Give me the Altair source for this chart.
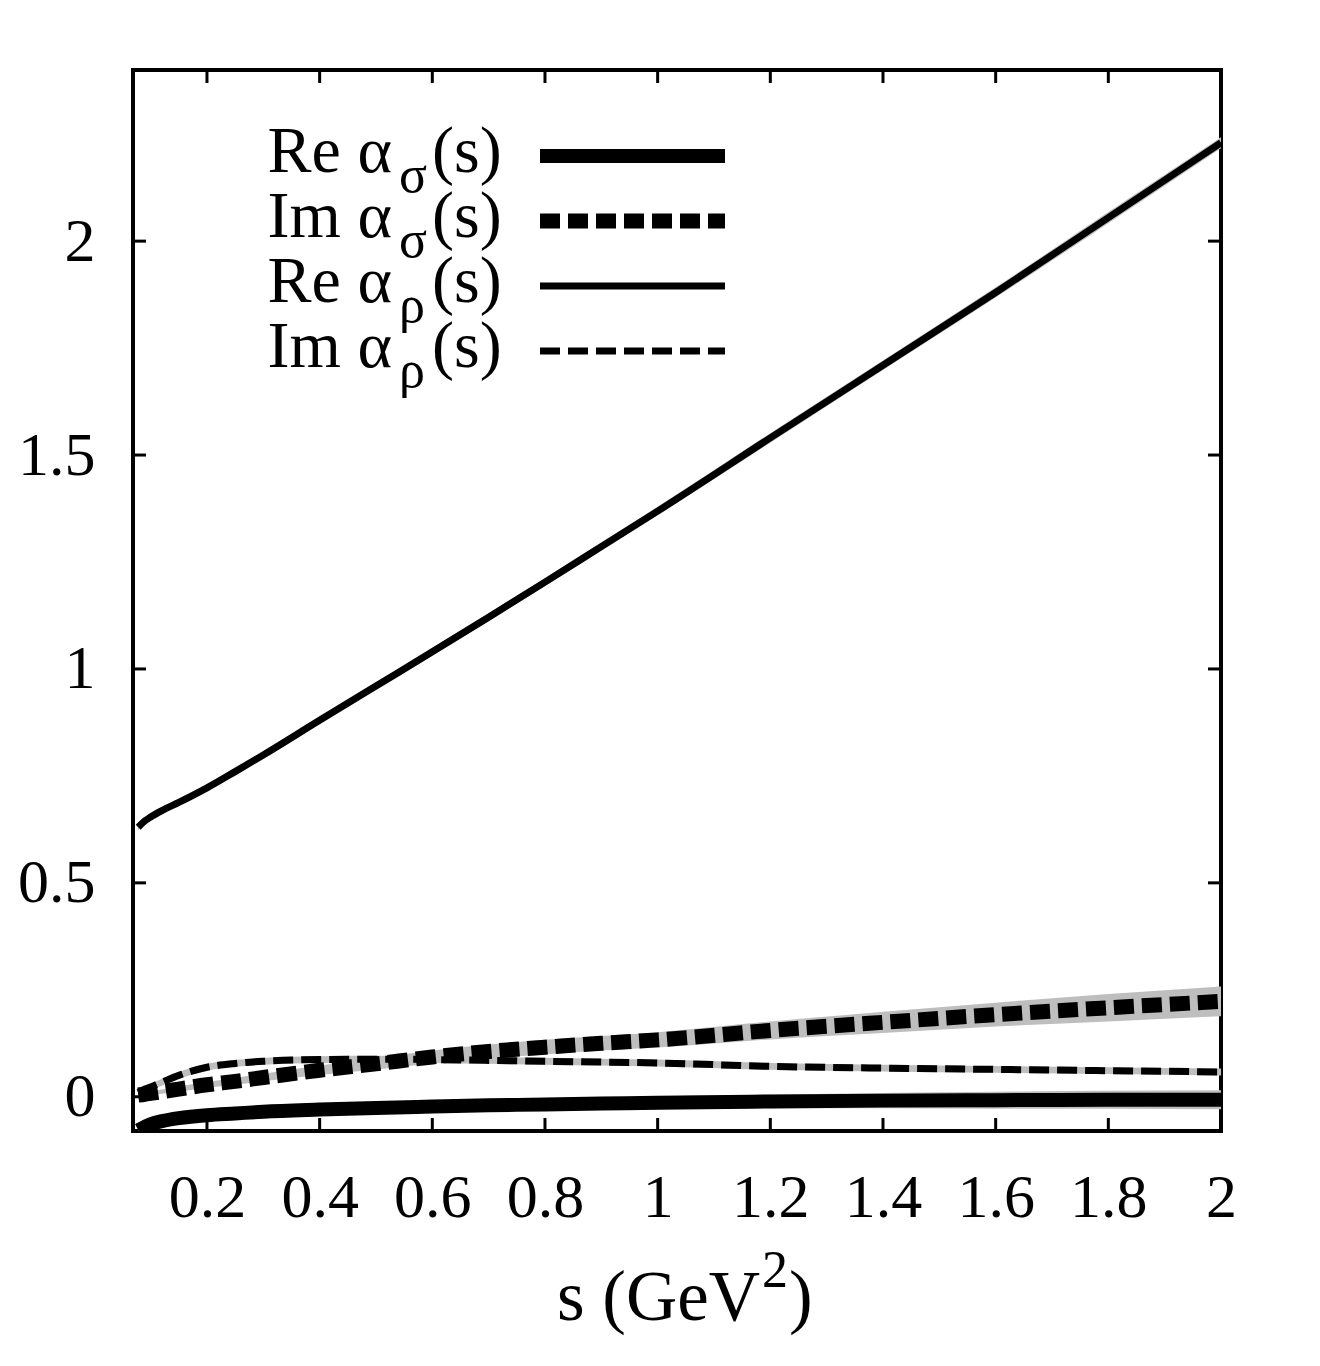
import altair as alt
import pandas as pd

# ---- data ----
S = [0.078, 0.09, 0.1, 0.12, 0.15, 0.2, 0.25, 0.3, 0.4, 0.5, 0.6, 0.7, 0.8, 0.9, 1.0,
     1.2, 1.4, 1.6, 1.8, 2.0]

RE_SIGMA = [-0.078, -0.070, -0.064, -0.057, -0.050, -0.043, -0.039, -0.035, -0.030, -0.026,
            -0.023, -0.020, -0.018, -0.016, -0.014, -0.011, -0.009, -0.008, -0.007, -0.007]
RE_SIGMA_ERR = [0.010, 0.010, 0.010, 0.010, 0.010, 0.011, 0.011, 0.011, 0.012, 0.012,
                0.013, 0.013, 0.014, 0.014, 0.015, 0.016, 0.018, 0.020, 0.021, 0.022]

IM_SIGMA = [0.004, 0.006, 0.008, 0.012, 0.018, 0.028, 0.036, 0.045, 0.062, 0.077,
            0.093, 0.106, 0.116, 0.125, 0.133, 0.155, 0.174, 0.192, 0.208, 0.223]
IM_SIGMA_ERR = [0.003, 0.004, 0.004, 0.005, 0.006, 0.007, 0.008, 0.009, 0.011, 0.013,
                0.015, 0.016, 0.017, 0.017, 0.018, 0.021, 0.025, 0.028, 0.032, 0.035]

RE_RHO = [0.630, 0.645, 0.654, 0.669, 0.688, 0.722, 0.760, 0.799, 0.880, 0.960,
          1.040, 1.121, 1.203, 1.286, 1.369, 1.540, 1.710, 1.880, 2.055, 2.230]
RE_RHO_ERR = [0.007, 0.007, 0.007, 0.007, 0.007, 0.007, 0.007, 0.008, 0.008, 0.008,
              0.009, 0.009, 0.009, 0.010, 0.010, 0.011, 0.011, 0.012, 0.013, 0.013]

IM_RHO = [0.010, 0.018, 0.023, 0.034, 0.050, 0.069, 0.078, 0.083, 0.087, 0.088,
          0.087, 0.085, 0.083, 0.081, 0.079, 0.071, 0.067, 0.064, 0.061, 0.058]
IM_RHO_ERR = [0.005, 0.006, 0.007, 0.008, 0.008, 0.008, 0.008, 0.008, 0.008, 0.008,
              0.008, 0.008, 0.008, 0.008, 0.008, 0.008, 0.008, 0.008, 0.008, 0.008]

X_TICKS = [0.2, 0.4, 0.6, 0.8, 1.0, 1.2, 1.4, 1.6, 1.8, 2.0]
Y_TICKS = [0, 0.5, 1, 1.5, 2]

LEGEND_MAIN = ["Re α", "Im α", "Re α", "Im α"]
LEGEND_SUB = ["σ", "σ", "ρ", "ρ"]
X_TITLE_MAIN = "s (GeV"
X_TITLE_SUP = "2"
X_TITLE_END = ")"

# ---- layout / style ----
W, H = 1088, 1061
FONT = "Liberation Serif"
GREY = "#bebebe"

xscale = alt.Scale(domain=[0.0687, 2.0], nice=False, zero=False)
yscale = alt.Scale(domain=[-0.08, 2.4], nice=False, zero=False)

xaxis = alt.Axis(values=X_TICKS, format=".1~f", ticks=False, domain=False, grid=False,
                 labelFont=FONT, labelFontSize=62, labelColor="black", labelPadding=36,
                 labelFlush=False, labelOverlap=False, title="")
yaxis = alt.Axis(values=Y_TICKS, format="~g", ticks=False, domain=False, grid=False,
                 labelFont=FONT, labelFontSize=62, labelColor="black", labelPadding=38,
                 labelFlush=False, labelOverlap=False, labelBaseline="middle", title="")

X = alt.X("s:Q", scale=xscale, axis=xaxis)


def frame(vals, errs):
    return pd.DataFrame({
        "s": S,
        "v": vals,
        "lo": [v - e for v, e in zip(vals, errs)],
        "hi": [v + e for v, e in zip(vals, errs)],
    })


series = [
    (frame(RE_SIGMA, RE_SIGMA_ERR), 14, None),
    (frame(IM_SIGMA, IM_SIGMA_ERR), 15, [20, 8]),
    (frame(RE_RHO, RE_RHO_ERR), 7, None),
    (frame(IM_RHO, IM_RHO_ERR), 7, [20, 8]),
]

layers = []
for df, sw, dash in series:
    layers.append(
        alt.Chart(df).mark_area(color=GREY, clip=True, interpolate="monotone").encode(
            x=X, y=alt.Y("lo:Q", scale=yscale, axis=yaxis), y2="hi:Q")
    )
for df, sw, dash in series:
    kw = dict(color="black", strokeWidth=sw, clip=True, interpolate="monotone",
              strokeCap="butt", strokeJoin="round")
    if dash:
        kw["strokeDash"] = dash
    layers.append(
        alt.Chart(df).mark_line(**kw).encode(
            x=X, y=alt.Y("v:Q", scale=yscale, axis=yaxis))
    )

# inward ticks (gnuplot style), mirrored on all four sides
xt = pd.DataFrame({"s": X_TICKS})
yt = pd.DataFrame({"v": Y_TICKS})
TL = 13
layers.append(alt.Chart(xt).mark_rule(color="black", strokeWidth=3).encode(
    x=X, y=alt.value(H), y2=alt.value(H - TL)))
layers.append(alt.Chart(xt).mark_rule(color="black", strokeWidth=3).encode(
    x=X, y=alt.value(0), y2=alt.value(TL)))
layers.append(alt.Chart(yt).mark_rule(color="black", strokeWidth=3).encode(
    y=alt.Y("v:Q", scale=yscale, axis=yaxis), x=alt.value(0), x2=alt.value(TL)))
layers.append(alt.Chart(yt).mark_rule(color="black", strokeWidth=3).encode(
    y=alt.Y("v:Q", scale=yscale, axis=yaxis), x=alt.value(W), x2=alt.value(W - TL)))

one = pd.DataFrame({"a": [0]})

# x-axis title with a real superscript
TB = 1250
layers.append(alt.Chart(one).mark_text(
    text=X_TITLE_MAIN, align="right", baseline="alphabetic", font=FONT, fontSize=71,
    color="black").encode(x=alt.value(627), y=alt.value(TB)))
layers.append(alt.Chart(one).mark_text(
    text=X_TITLE_SUP, align="left", baseline="alphabetic", font=FONT, fontSize=52,
    color="black").encode(x=alt.value(629), y=alt.value(TB - 33)))
layers.append(alt.Chart(one).mark_text(
    text=X_TITLE_END, align="left", baseline="alphabetic", font=FONT, fontSize=71,
    color="black").encode(x=alt.value(656), y=alt.value(TB)))

# legend (inside, top-left)
for i, (main, sub) in enumerate(zip(LEGEND_MAIN, LEGEND_SUB)):
    base = 102 + 65 * i
    layers.append(alt.Chart(one).mark_text(
        text=main, align="right", baseline="alphabetic", font=FONT, fontSize=66,
        color="black").encode(x=alt.value(259), y=alt.value(base)))
    layers.append(alt.Chart(one).mark_text(
        text=sub, align="left", baseline="alphabetic", font=FONT, fontSize=52,
        color="black").encode(x=alt.value(266), y=alt.value(base + 20)))
    layers.append(alt.Chart(one).mark_text(
        text="(s)", align="left", baseline="alphabetic", font=FONT, fontSize=66,
        color="black").encode(x=alt.value(299), y=alt.value(base)))
    sw, dash = series[i][1], series[i][2]
    kw = dict(color="black", strokeWidth=sw, strokeCap="butt")
    if dash:
        kw["strokeDash"] = dash
    layers.append(alt.Chart(one).mark_rule(**kw).encode(
        x=alt.value(407), x2=alt.value(592), y=alt.value(base - 16)))

chart = alt.layer(*layers).properties(
    width=W, height=H,
    autosize=alt.AutoSizeParams(type="none"),
    padding={"left": 125, "top": 62, "right": 90, "bottom": 220},
    background="white",
).configure_view(stroke="black", strokeWidth=4)

chart.save("out.html", embed_options={"renderer": "svg", "actions": False})
